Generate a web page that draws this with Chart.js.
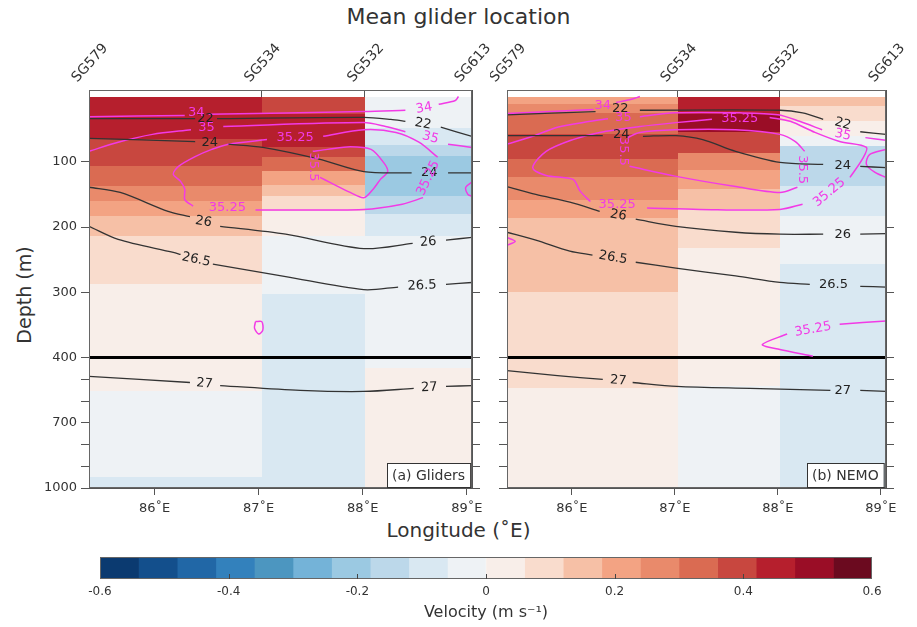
<!DOCTYPE html>
<html>
<head>
<meta charset="utf-8">
<script src="https://cdn.jsdelivr.net/npm/chart.js@4.4.1/dist/chart.umd.min.js"></script>
<style>
  body { margin: 0; background: #fff; width: 917px; height: 627px; position: relative; overflow: hidden;
         font-family: "DejaVu Sans", sans-serif; color: #333; }
  canvas, .txt { position: absolute; }
  #title { left: 0; width: 917px; top: 4px; text-align: center; font-size: 22px; }
  #ytitle { left: 24px; top: 295px; transform: translate(-50%, -50%) rotate(-90deg); font-size: 19px; white-space: nowrap; }
  #xtitle { left: 0; width: 917px; top: 518px; text-align: center; font-size: 20px; }
</style>
</head>
<body>
<div class="txt" id="title">Mean glider location</div>
<div class="txt" id="ytitle">Depth (m)</div>
<div class="txt" id="xtitle">Longitude (˚E)</div>
<canvas id="panelA" width="520" height="540" style="left:0;top:0"></canvas>
<canvas id="panelB" width="427" height="540" style="left:490px;top:0"></canvas>
<canvas id="cbar" width="917" height="82" style="left:0;top:545px"></canvas>
<script>
/* ---------- DATA ---------- */
const sgNames = ["SG579", "SG534", "SG532", "SG613"];
const sgLon = [85.37, 87.03, 88.02, 89.05];       // mean glider longitudes (column edges)
const lonTicks = [86, 87, 88, 89];
const depthTicks = [100, 200, 300, 400, 500, 600, 700, 800, 900, 1000];
const depthLabels = [100, 200, 300, 400, 700, 1000];

const cbTicks = [-0.6, -0.4, -0.2, 0, 0.2, 0.4, 0.6];
const cbTickLabels = ["-0.6", "-0.4", "-0.2", "0", "0.2", "0.4", "0.6"];
const cbColors = ["#0b3a70", "#134f8c", "#2167a6", "#3381bc", "#4c96c0", "#74b3d8", "#9bc9e2", "#bcd8ea", "#d9e8f2", "#eef2f5",
                  "#f8eee9", "#f9dccd", "#f6c0a6", "#f3a383", "#e98a6b", "#da6b52", "#c8473f", "#b61f2d", "#9a0d26", "#6b0a1f"];

// velocity bands per column: depth edges (m) and velocity (m/s)
const glDepth1 = [0, 65, 107, 137, 160, 183, 214, 288, 555, 950, 1000];
const glVel1 = [0.45, 0.39, 0.33, 0.27, 0.21, 0.15, 0.09, 0.03, -0.03, -0.09];
const glDepth2 = [0, 27, 78, 93, 114, 135, 152, 175, 214, 303, 1000];
const glVel2 = [0.39, 0.45, 0.39, 0.33, 0.23, 0.16, 0.09, 0.03, -0.03, -0.09];
const glDepth3 = [0, 48, 74, 91, 152, 180, 214, 447, 1000];
const glVel3 = [-0.03, -0.09, -0.15, -0.21, -0.15, -0.09, -0.03, 0.03];

const nmDepth1 = [0, 12, 25, 58, 96, 124, 158, 186, 300, 538, 1000];
const nmVel1 = [0.21, 0.27, 0.33, 0.39, 0.33, 0.27, 0.21, 0.15, 0.09, 0.03];
const nmDepth2 = [0, 27, 55, 86, 112, 142, 173, 232, 530, 1000];
const nmVel2 = [0.45, 0.51, 0.39, 0.25, 0.19, 0.13, 0.09, 0.03, -0.03];
const nmDepth3 = [0, 15, 38, 61, 76, 137, 183, 257, 1000];
const nmVel3 = [0.15, 0.09, 0.03, -0.03, -0.15, -0.09, -0.03, -0.09];

// density contours [lon, depth], null = gap for label
const glS22 = [[85.37,34],[86.39,34],null,[86.60,34],[88.01,32],[88.27,35],[88.41,38],null,[88.75,47],[89.05,61]];
const glS24 = [[85.37,64],[86.39,69],null,[86.71,73],[87.04,78],[87.58,96],[88.01,115],[88.47,117],null,[88.82,117],[89.05,117]];
const glS26 = [[85.37,139],[85.67,147],[86.13,176],[86.34,184],null,[86.63,199],[87.26,211],[88.01,233],[88.48,225],null,[88.80,220],[89.05,216]];
const glS265 = [[85.37,199],[85.65,219],[86.18,239],[86.25,242],null,[86.56,257],[87.26,276],[88.01,296],[88.34,292],null,[88.80,288],[89.05,285]];
const glS27 = [[85.37,487],[86.34,515],null,[86.63,529],[87.40,551],[88.01,556],[88.49,542],null,[88.80,533],[89.05,529]];
// salinity contours
const glT34 = [[85.37,31],[86.29,29],null,[86.52,27],[88.01,23],[88.41,21],null,[88.73,12],[88.89,6],[88.92,0]];
const glT35 = [[85.37,84],[85.65,70],[85.98,58],[86.35,51],null,[86.66,46],[88.01,40],[88.22,46],[88.41,54],null,[88.82,73],[89.05,78]];
const glT3525 = [[87.62,61],[88.01,51],[88.32,55],[88.54,70],[88.72,93],null,[88.58,155],[88.38,165],[88.01,173],[86.97,174],null,
                 [86.37,168],[86.29,158],[86.29,142],[86.25,130],[86.18,119],[86.23,107],[86.39,92],[86.55,81],[86.71,73],[87.08,66]];
const glT355 = [[87.52,84],[87.66,81],[87.88,77],[88.08,81],[88.20,101],[88.24,115],[88.17,127],[88.10,142],[88.01,155],[87.88,147],[87.69,132],[87.59,124]];
const glT3525b = [[86.97,345],[87.03,345],[87.04,358],[87.00,364],[86.96,355],[86.97,345]];
const glT3525c = [[89.05,131],[88.99,139],[89.01,150],[89.05,153]];

const nmS22 = [[85.37,28],[86.23,23],null,[86.66,21],[88.02,21],[88.24,25],[88.44,35],null,[88.80,54],[89.05,58]];
const nmS24 = [[85.37,60],[86.30,60],null,[86.69,61],[87.01,60],[87.27,66],[87.59,84],[88.02,101],[88.44,104],null,[88.80,107],[89.05,109]];
const nmS26 = [[85.37,138],[85.65,150],[85.98,162],[86.27,176],null,[86.62,188],[87.01,199],[87.59,208],[88.02,211],[88.44,211],null,[88.80,211],[89.05,210]];
const nmS265 = [[85.37,208],[85.65,220],[85.98,237],[86.20,243],null,[86.62,254],[87.01,263],[87.59,275],[88.02,285],[88.31,288],null,[88.80,291],[89.05,292]];
const nmS27 = [[85.37,460],[85.86,483],[86.30,501],null,[86.59,515],[87.02,533],[87.73,542],[88.51,551],null,[88.80,551],[89.05,556]];
const nmT34 = [[85.37,26],[86.21,20],null,[86.43,9],[86.56,5],[86.66,0]];
const nmT35 = [[85.37,73],[85.62,61],[85.86,47],[86.18,38],[86.35,34],null,[86.66,31],[87.00,25],[87.63,25],[88.00,28],[88.21,38],[88.43,51],null,[88.85,63],[89.05,67]];
const nmT3525 = [[87.92,32],[88.12,38],[88.36,55],[88.60,69],[88.86,78],[88.82,96],[88.70,124],null,[88.24,165],[88.02,173],[87.24,173],[86.73,171],null,
                 [86.18,161],[86.08,145],[86.01,127],[85.75,121],[85.62,109],[85.75,84],[86.01,66],[86.27,55],[86.66,46],[87.01,40],[87.36,35]];
const nmT355 = [[86.56,107],[87.00,122],[87.59,138],[88.02,147],[88.19,139],null,[88.26,84],[88.17,69],[88.02,58],[87.59,51],[87.00,51],[86.66,55],[86.54,63]];
const nmT355b = [[89.05,81],[88.89,89],[88.86,104],[88.94,116],[89.05,124]];
const nmT3525b = [[85.37,216],[85.45,222],[85.37,228]];
const nmT3525c = [[89.05,344],[88.60,349],null,[88.09,364],[87.85,380],[88.00,387],[88.34,398]];

// contour labels: [text, lon, depth, angle]
const glSigLabels = [["22",86.49,34,0],["22",88.58,42,10],["24",86.53,71,0],["24",88.64,117,0],["26",86.47,192,10],["26",88.63,223,-5],
                     ["26.5",86.40,250,12],["26.5",88.57,290,-3],["27",86.48,520,5],["27",88.64,538,-3]];
const glSalLabels = [["34",86.40,25,0],["34",88.59,18,-10],["35",86.50,48,0],["35",88.65,63,15],["35.25",87.35,63,0],
                     ["35.25",88.63,125,-65],["35.25",86.70,170,0],["35.5",87.53,108,90]];
const nmSigLabels = [["22",86.47,19,0],["22",88.63,42,15],["24",86.48,59,0],["24",88.63,106,0],["26",86.45,182,10],["26",88.63,211,0],
                     ["26.5",86.40,247,10],["26.5",88.54,289,0],["27",86.45,506,5],["27",88.63,551,0]];
const nmSalLabels = [["34",86.30,14,0],["35",86.50,32,0],["35",88.63,59,12],["35.25",87.63,34,0],["35.25",88.50,147,-40],
                     ["35.25",86.44,165,0],["35.5",86.50,84,90],["35.5",88.24,112,90],["35.25",88.34,357,-10]];

/* ---------- HELPERS ---------- */
const lonMin = sgLon[0], lonMax = sgLon[sgLon.length - 1];
const cbMin = -0.6, cbStep = 0.06;
const SIG = "#333", SAL = "#f23ae6";
const FONT = "'DejaVu Sans', sans-serif";
Chart.defaults.font.family = FONT;
Chart.defaults.color = "#333";

// depth axis is stretched above 400 m
function toAxis(d) { return d <= 400 ? d : 400 + (d - 400) / 3; }
function fromAxis(u) { return u <= 400 ? u : 400 + (u - 400) * 3; }

function velColor(v) {
  let i = Math.floor((v - cbMin) / cbStep);
  i = Math.max(0, Math.min(cbColors.length - 1, i));
  return cbColors[i];
}

function toPoints(arr) {
  return arr.map((p, i) => p ? { x: p[0], y: toAxis(p[1]) } : { x: arr[i - 1][0], y: null });
}

function noPad(s) { s.paddingLeft = 0; s.paddingRight = 0; s.paddingTop = 0; s.paddingBottom = 0; }

function makePanel(id, columns, sig, sal, sigLabels, salLabels, legendText, lay) {
  const datasets = [];
  sig.forEach(c => datasets.push({ data: toPoints(c), showLine: true, pointRadius: 0, borderColor: SIG, borderWidth: 1.3, tension: 0.3, spanGaps: false }));
  sal.forEach(c => datasets.push({ data: toPoints(c), showLine: true, pointRadius: 0, borderColor: SAL, borderWidth: 1.5, tension: 0.3, spanGaps: false }));
  datasets.push({ data: [{ x: lonMin, y: 400 }, { x: lonMax, y: 400 }], showLine: true, pointRadius: 0, borderColor: "#000", borderWidth: 3 });

  const cells = {
    id: "cells",
    beforeDatasetsDraw(chart) {
      const { ctx, chartArea: a, scales: { x, y } } = chart;
      ctx.save();
      ctx.beginPath(); ctx.rect(a.left, a.top, a.width, a.height); ctx.clip();
      columns.forEach((col, c) => {
        const x0 = Math.round(x.getPixelForValue(sgLon[c]));
        const x1 = Math.round(x.getPixelForValue(sgLon[c + 1]));
        col.vel.forEach((v, k) => {
          const y0 = Math.round(y.getPixelForValue(toAxis(col.depth[k])));
          const y1 = Math.round(y.getPixelForValue(toAxis(col.depth[k + 1])));
          ctx.fillStyle = velColor(v);
          ctx.fillRect(x0, y0, x1 - x0, y1 - y0);
        });
      });
      ctx.restore();
    }
  };

  const decor = {
    id: "decor",
    afterDatasetsDraw(chart) {
      const { ctx, chartArea: a, scales: { x, y } } = chart;
      ctx.save();
      ctx.textAlign = "center"; ctx.textBaseline = "middle";
      ctx.font = "13px " + FONT;
      const put = (list, color) => list.forEach(([t, lon, d, ang]) => {
        ctx.save();
        ctx.translate(x.getPixelForValue(lon), y.getPixelForValue(toAxis(d)));
        ctx.rotate(ang * Math.PI / 180);
        ctx.fillStyle = color;
        ctx.fillText(t, 0, 0);
        ctx.restore();
      });
      put(sigLabels, "#222");
      put(salLabels, SAL);
      // frame
      ctx.strokeStyle = "#666"; ctx.lineWidth = 1;
      ctx.strokeRect(a.left + 0.5, a.top + 0.5, a.width - 1, a.height - 1);
      // panel tag
      ctx.font = "14px " + FONT;
      const w = ctx.measureText(legendText).width + 10, h = 24;
      const bx = Math.round(a.right - 2 - w), by = Math.round(a.bottom - 1 - h);
      ctx.fillStyle = "#fff"; ctx.fillRect(bx, by, w, h);
      ctx.strokeStyle = "#333"; ctx.strokeRect(bx + 0.5, by + 0.5, w, h);
      ctx.fillStyle = "#333"; ctx.fillText(legendText, bx + w / 2, by + h / 2 + 1);
      ctx.restore();
    }
  };

  const yCommon = {
    type: "linear", reverse: true, min: -10, max: 600,
    afterBuildTicks: s => { s.ticks = depthTicks.map(d => ({ value: toAxis(d) })); },
    grid: { drawOnChartArea: false, tickLength: 8, color: "#555" },
    border: { color: "#555" }
  };

  return new Chart(document.getElementById(id), {
    type: "scatter",
    data: { datasets },
    options: {
      responsive: false, animation: false, devicePixelRatio: 1,
      layout: { padding: 0 },
      plugins: { legend: { display: false }, tooltip: { enabled: false } },
      scales: {
        x: {
          type: "linear", position: "bottom", min: lonMin, max: lonMax,
          afterBuildTicks: s => { s.ticks = lonTicks.map(v => ({ value: v })); },
          ticks: { callback: v => v + "˚E", font: { size: 13 }, padding: 6, maxRotation: 0, autoSkip: false },
          grid: { drawOnChartArea: false, tickLength: 7, color: "#555" },
          border: { color: "#555" },
          afterFit: s => { s.height = lay.bottom; noPad(s); }
        },
        x2: {
          type: "linear", position: "top", min: lonMin, max: lonMax,
          afterBuildTicks: s => { s.ticks = sgLon.map(v => ({ value: v })); },
          ticks: { callback: (v, i) => sgNames[i], font: { size: 14 }, padding: 4, labelOffset: -2,
                   minRotation: 48, maxRotation: 48, autoSkip: false },
          grid: { drawOnChartArea: true, drawTicks: false, color: "#555" },
          border: { color: "#555" },
          afterFit: s => { s.height = lay.top; noPad(s); }
        },
        y: Object.assign({}, yCommon, {
          position: "left",
          ticks: { display: lay.yLabels, autoSkip: false, font: { size: 13 }, padding: 4,
                   callback: v => { const d = Math.round(fromAxis(v)); return depthLabels.includes(d) ? String(d) : ""; } },
          afterFit: s => { s.width = lay.left; noPad(s); }
        }),
        y2: Object.assign({}, yCommon, {
          position: "right",
          ticks: { display: false, autoSkip: false },
          afterFit: s => { s.width = lay.right; noPad(s); }
        })
      }
    },
    plugins: [cells, decor]
  });
}

/* ---------- PANELS ---------- */
makePanel("panelA",
  [{ depth: glDepth1, vel: glVel1 }, { depth: glDepth2, vel: glVel2 }, { depth: glDepth3, vel: glVel3 }],
  [glS22, glS24, glS26, glS265, glS27],
  [glT34, glT35, glT3525, glT355, glT3525b, glT3525c],
  glSigLabels, glSalLabels, "(a) Gliders",
  { left: 89, right: 48, top: 90, bottom: 52, yLabels: true });

makePanel("panelB",
  [{ depth: nmDepth1, vel: nmVel1 }, { depth: nmDepth2, vel: nmVel2 }, { depth: nmDepth3, vel: nmVel3 }],
  [nmS22, nmS24, nmS26, nmS265, nmS27],
  [nmT34, nmT35, nmT3525, nmT355, nmT355b, nmT3525b, nmT3525c],
  nmSigLabels, nmSalLabels, "(b) NEMO",
  { left: 17, right: 31, top: 90, bottom: 52, yLabels: false });

/* ---------- COLOUR BAR ---------- */
const cbFrame = {
  id: "cbFrame",
  afterDatasetsDraw(chart) {
    const { ctx, chartArea: a, scales: { x } } = chart;
    ctx.save();
    ctx.strokeStyle = "#666"; ctx.lineWidth = 1;
    ctx.strokeRect(a.left + 0.5, a.top + 0.5, a.width - 1, a.height - 1);
    // small inward ticks at the labelled values
    ctx.strokeStyle = "#444";
    ctx.beginPath();
    cbTicks.slice(1, -1).forEach(v => {
      const px = Math.round(x.getPixelForValue(v)) + 0.5;
      ctx.moveTo(px, a.bottom); ctx.lineTo(px, a.bottom - 5);
    });
    ctx.stroke();
    ctx.restore();
  }
};

new Chart(document.getElementById("cbar"), {
  type: "bar",
  data: {
    labels: ["v"],
    datasets: cbColors.map((c, i) => ({
      data: [[cbMin + i * cbStep, cbMin + (i + 1) * cbStep]],
      backgroundColor: c, borderWidth: 0, grouped: false, barPercentage: 1, categoryPercentage: 1
    }))
  },
  options: {
    indexAxis: "y", responsive: false, animation: false, devicePixelRatio: 1,
    layout: { padding: { left: 100, right: 45, top: 12, bottom: 0 } },
    plugins: { legend: { display: false }, tooltip: { enabled: false } },
    scales: {
      y: { display: false },
      x: {
        min: cbMin, max: -cbMin,
        afterBuildTicks: s => { s.ticks = cbTicks.map(v => ({ value: v })); },
        ticks: { callback: (v, i) => cbTickLabels[i], font: { size: 12 }, padding: 6, maxRotation: 0, autoSkip: false },
        grid: { drawOnChartArea: false, drawTicks: false },
        border: { display: false },
        title: { display: true, text: "Velocity (m s⁻¹)", font: { size: 16 }, padding: { top: 0, bottom: 5 } },
        afterFit: s => { s.height = 48; noPad(s); }
      }
    }
  },
  plugins: [cbFrame]
});
</script>
</body>
</html>
